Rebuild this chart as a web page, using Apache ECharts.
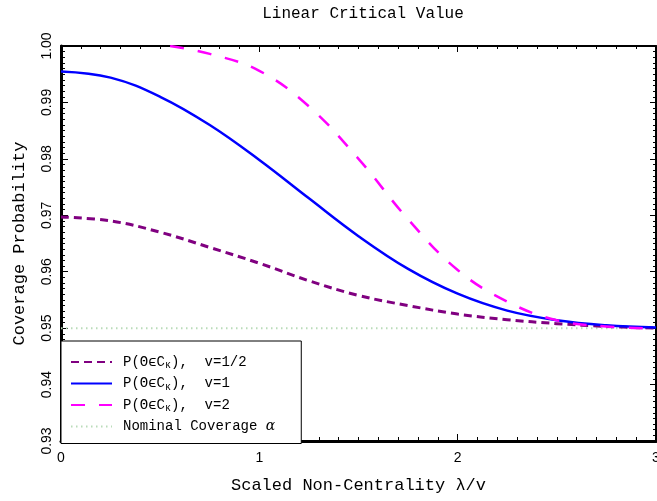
<!DOCTYPE html>
<html>
<head>
<meta charset="utf-8">
<title>Linear Critical Value</title>
<script src="https://cdn.jsdelivr.net/npm/echarts@6/dist/echarts.min.js"></script>
<style>
    html, body { margin: 0; padding: 0; background: #fff; }
    #chart { width: 657px; height: 501px; }
</style>
</head>
<body>
<div id="chart"></div>
<script>
// scaled non-centrality (x) and coverage probabilities
var lambdaX = [0, 0.25, 0.5, 0.75, 1.0, 1.25, 1.5, 1.75, 2.0, 2.25, 2.5, 2.75, 3.0];
var coverHalf = [0.9697, 0.9690, 0.9670, 0.9643, 0.9615, 0.9584, 0.9558, 0.9540, 0.9525, 0.9515, 0.9508, 0.9503, 0.9500];
var coverOne = [0.9955, 0.9944, 0.9910, 0.9860, 0.9798, 0.9730, 0.9663, 0.9605, 0.9561, 0.9531, 0.9514, 0.9505, 0.9501];
var lambdaTwoX = [0.55, 0.75, 1.0, 1.25, 1.5, 1.75, 2.0, 2.25, 2.5, 2.75, 3.0];
var coverTwo = [1.0000, 0.9986, 0.9956, 0.9893, 0.9800, 0.9693, 0.9603, 0.9547, 0.9514, 0.9503, 0.9499];
var nominalX = [0, 3];
var nominalY = [0.95, 0.95];
var xTicks = ['0', '1', '2', '3'];

var legendText = {
    half: '{t|P(\u0398\u03f5C}{s|\u03ba}{t|),  v=1/2}',
    one: '{t|P(\u0398\u03f5C}{s|\u03ba}{t|),  v=1}',
    two: '{t|P(\u0398\u03f5C}{s|\u03ba}{t|),  v=2}',
    nom: '{t|Nominal Coverage }{g|\u03b1}'
};

function pairs(xs, ys) {
    var out = [];
    for (var i = 0; i < xs.length; i++) out.push([xs[i], ys[i]]);
    return out;
}

var serifMono = '"Liberation Mono", "DejaVu Sans Mono", monospace';
var sans = '"Liberation Sans", Arial, sans-serif';

var chart = echarts.init(document.getElementById('chart'), null, { renderer: 'canvas' });

var mainAxisX = {
    type: 'value', min: 0, max: 3, interval: 1,
    name: 'Scaled Non-Centrality \u03bb/v',
    nameLocation: 'middle', nameGap: 36,
    nameTextStyle: { fontFamily: serifMono, fontSize: 17, color: '#000' },
    axisLine: { show: true, onZero: false, lineStyle: { color: '#000', width: 3 } },
    axisTick: { show: true, inside: true, length: 7, lineStyle: { color: '#000', width: 1 } },
    minorTick: { show: true, splitNumber: 10, length: 4, lineStyle: { color: '#000', width: 1 } },
    axisLabel: {
        margin: 10, fontFamily: sans, fontSize: 14, color: '#000',
        showMinLabel: true, showMaxLabel: true,
        formatter: function (v) { return xTicks[Math.round(v)]; }
    },
    splitLine: { show: false }
};

var mainAxisY = {
    type: 'value', min: 0.93, max: 1.0, interval: 0.01,
    name: 'Coverage Probability',
    nameLocation: 'middle', nameGap: 33,
    nameTextStyle: { fontFamily: serifMono, fontSize: 17, color: '#000' },
    axisLine: { show: true, onZero: false, lineStyle: { color: '#000', width: 3 } },
    axisTick: { show: true, inside: true, length: 7, lineStyle: { color: '#000', width: 1 } },
    minorTick: { show: true, splitNumber: 10, length: 4, lineStyle: { color: '#000', width: 1 } },
    axisLabel: {
        margin: 7, rotate: 90, fontFamily: sans, fontSize: 14, color: '#000',
        showMinLabel: true, showMaxLabel: true,
        formatter: function (v) { return v.toFixed(2); }
    },
    splitLine: { show: false }
};

var option = {
    animation: false,
    backgroundColor: '#fff',
    title: {
        text: 'Linear Critical Value',
        left: 358, top: 1, textAlign: 'center',
        textStyle: { fontFamily: serifMono, fontSize: 16, fontWeight: 'normal', color: '#000' }
    },
    grid: { left: 61, right: 1, top: 46, bottom: 60, containLabel: false, outerBoundsMode: 'none' },
    legend: {
        orient: 'vertical',
        left: 61, top: 341,
        padding: [14, 26, 10, 9],
        itemWidth: 41, itemHeight: 14, itemGap: 6,
        backgroundColor: '#fff',
        borderColor: '#000', borderWidth: 1,
        itemStyle: { opacity: 0 },
        data: ['half', 'one', 'two', 'nom'],
        formatter: function (name) { return legendText[name]; },
        textStyle: {
            padding: [0, 0, 0, 6],
            rich: {
                t: { fontFamily: serifMono, fontSize: 14, color: '#000' },
                g: { fontFamily: '"DejaVu Serif", serif', fontStyle: 'italic', fontSize: 14, color: '#000' },
                s: { fontFamily: serifMono, fontSize: 10, color: '#000', padding: [7, 0, 0, 0] }
            }
        }
    },
    xAxis: [
        mainAxisX,
        {
            type: 'value', min: 0, max: 3, interval: 1, position: 'top',
            axisLine: { show: true, onZero: false, lineStyle: { color: '#000', width: 2 } },
            axisTick: { show: true, inside: true, length: 6, lineStyle: { color: '#000' } },
            minorTick: { show: true, splitNumber: 10, length: 3, lineStyle: { color: '#000' } },
            axisLabel: { show: false },
            splitLine: { show: false }
        }
    ],
    yAxis: [
        mainAxisY,
        {
            type: 'value', min: 0.93, max: 1.0, interval: 0.01, position: 'right',
            axisLine: { show: true, onZero: false, lineStyle: { color: '#000', width: 2 } },
            axisTick: { show: true, inside: true, length: 6, lineStyle: { color: '#000' } },
            minorTick: { show: true, splitNumber: 10, length: 3, lineStyle: { color: '#000' } },
            axisLabel: { show: false },
            splitLine: { show: false }
        }
    ],
    series: [
        {
            name: 'nom', type: 'line', symbol: 'none', silent: true,
            data: pairs(nominalX, nominalY),
            lineStyle: { color: '#b9dcb9', width: 2, type: [1.5, 3.5] },
            itemStyle: { color: '#b9dcb9' },
            z: 1
        },
        {
            name: 'half', type: 'line', symbol: 'none', smooth: 0.4,
            data: pairs(lambdaX, coverHalf),
            lineStyle: { color: '#800080', width: 3, type: [8, 5] },
            itemStyle: { color: '#800080' },
            z: 3
        },
        {
            name: 'one', type: 'line', symbol: 'none', smooth: 0.4,
            data: pairs(lambdaX, coverOne),
            lineStyle: { color: '#0000ff', width: 2.5 },
            itemStyle: { color: '#0000ff' },
            z: 4
        },
        {
            name: 'two', type: 'line', symbol: 'none', smooth: 0.4,
            data: pairs(lambdaTwoX, coverTwo),
            lineStyle: { color: '#ff00ff', width: 2.5, type: [14, 14] },
            itemStyle: { color: '#ff00ff' },
            z: 5
        }
    ]
};

chart.setOption(option);
</script>
</body>
</html>
